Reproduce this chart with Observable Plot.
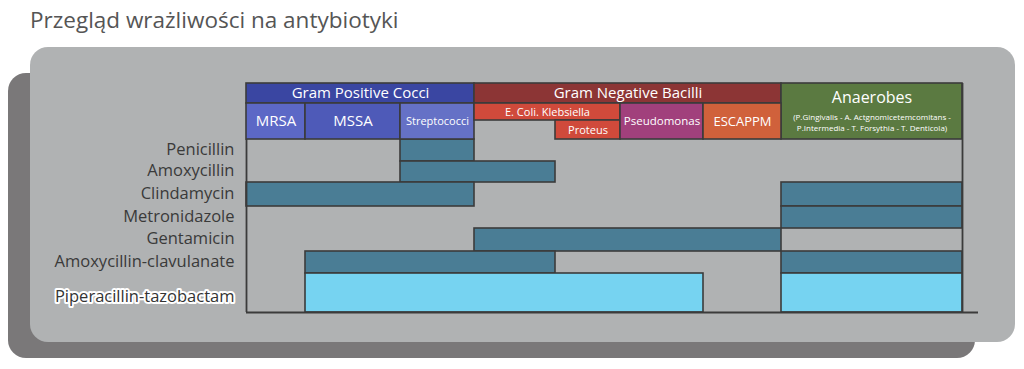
<!DOCTYPE html>
<html><head><meta charset="utf-8">
<script src="https://cdn.jsdelivr.net/npm/d3@7"></script>
<script src="https://cdn.jsdelivr.net/npm/@observablehq/plot@0.6"></script>
<style>
body{margin:0;background:#fff;font-family:"Open Sans",sans-serif;}
#wrap{position:relative;width:1024px;height:369px;overflow:hidden;}
#title{position:absolute;left:30px;top:5px;font-size:22.5px;color:#555;line-height:30px;}
.shadow{position:absolute;left:8px;top:73px;width:967px;height:285px;background:#7a7879;border-radius:18px;}
.panel{position:absolute;left:30px;top:47px;width:985px;height:295px;background:#b0b2b3;border-radius:18px;}
#chart{position:absolute;left:0;top:40px;}
</style></head>
<body><div id="wrap"><div class="shadow"></div><div class="panel"></div><div id="title">Przegląd wrażliwości na antybiotyki</div><div id="chart"></div></div>
<script>
// ---- data ----
const organisms = ["MRSA","MSSA","Streptococci","E. Coli. Klebsiella","Proteus","Pseudomonas","ESCAPPM","Anaerobes"];
const organismGroup = ["Gram Positive Cocci","Gram Positive Cocci","Gram Positive Cocci","Gram Negative Bacilli","Gram Negative Bacilli","Gram Negative Bacilli","Gram Negative Bacilli","Anaerobes"];
const groups = ["Gram Positive Cocci","Gram Negative Bacilli","Anaerobes"];
const anaerobeSpecies = ["(P.Gingivalis - A. Actgnomicetemcomitans -","P.Intermedia - T. Forsythia - T. Denticola)"];
const drugs = ["Penicillin","Amoxycillin","Clindamycin","Metronidazole","Gentamicin","Amoxycillin-clavulanate","Piperacillin-tazobactam"];
const spanDrug = ["Penicillin","Amoxycillin","Clindamycin","Clindamycin","Metronidazole","Gentamicin","Amoxycillin-clavulanate","Amoxycillin-clavulanate","Piperacillin-tazobactam","Piperacillin-tazobactam"];
const spanFrom = ["Streptococci","Streptococci","MRSA","Anaerobes","Anaerobes","E. Coli. Klebsiella","MSSA","Anaerobes","MSSA","Anaerobes"];
const spanTo   = ["Streptococci","E. Coli. Klebsiella","Streptococci","Anaerobes","Anaerobes","ESCAPPM","E. Coli. Klebsiella","Anaerobes","Pseudomonas","Anaerobes"];
const highlightDrug = "Piperacillin-tazobactam";

// ---- layout & styles ----
const colW = [59,95,74,81,65,83,78,181];
const colStart = []; let acc = 0; colW.forEach(w => { colStart.push(acc); acc += w; });
const totalW = acc;
const colEnd = colStart.map((s,i) => s + colW[i]);
const H1 = 20, H2 = 56;
const rowH = [22,21,24,22,23,22,39];
const rowTop = []; let ay = H2; rowH.forEach(h => { rowTop.push(ay); ay += h; });
const totalH = ay;
const idx = o => organisms.indexOf(o);
const groupColor = {"Gram Positive Cocci":"#3a46a2","Gram Negative Bacilli":"#8c3535","Anaerobes":"#5b7a41"};
const orgColor = {"MRSA":"#5c68c6","MSSA":"#4e5ab8","Streptococci":"#6571c6","E. Coli. Klebsiella":"#d04a3b","Proteus":"#d04a3b","Pseudomonas":"#a1407c","ESCAPPM":"#d0613b"};
const orgSize = {"MRSA":15,"MSSA":15,"Streptococci":11,"E. Coli. Klebsiella":11,"Proteus":11,"Pseudomonas":11.5,"ESCAPPM":13};
const teal = "#4a7d95", light = "#76d3f1", ink = "#3b3b3b";

const groupCells = groups.map(g => {
  const members = organisms.map((o,i)=>i).filter(i => organismGroup[i] === g);
  const x1 = colStart[members[0]], x2 = colEnd[members[members.length-1]];
  const merged = members.length === 1;
  return {label: g, x1, x2, y1: 0, y2: merged ? H2 : H1, fill: groupColor[g], ty: merged ? 14 : 10, size: merged ? 16 : 15};
});
const orgCells = organisms.filter(o => orgColor[o]).map(o => {
  const i = idx(o);
  let x1 = colStart[i], x2 = colEnd[i], y1 = H1, y2 = H2;
  if (o === "E. Coli. Klebsiella") { x2 = colEnd[idx("Proteus")]; y2 = (H1 + H2) / 2 - 1; }
  if (o === "Proteus") { y1 = (H1 + H2) / 2 - 1; }
  return {label: o, x1, x2, y1, y2, fill: orgColor[o], ty: (y1 + y2) / 2, size: orgSize[o]};
});
const spans = spanDrug.map((d,k) => {
  const r = drugs.indexOf(d);
  return {drug: d, x1: colStart[idx(spanFrom[k])], x2: colEnd[idx(spanTo[k])], y1: rowTop[r], y2: rowTop[r] + rowH[r], fill: d === highlightDrug ? light : teal};
});
const labels = drugs.map((d,r) => ({drug: d, y: rowTop[r] + rowH[r] / 2 + (d === highlightDrug ? 4 : -1)}));
const an = groupCells.find(c => c.label === "Anaerobes");
const species = anaerobeSpecies.map((s,k) => ({text: s, x: (an.x1 + an.x2) / 2, y: 34 + k * 11}));

const chart = Plot.plot({
  width: 1024, height: 329,
  marginLeft: 246, marginRight: 62, marginTop: 43, marginBottom: 57,
  x: {domain: [0, totalW], range: [246, 962], axis: null},
  y: {domain: [0, totalH], range: [43, 272], axis: null},
  color: {type: "identity"},
  style: {background: "transparent", overflow: "visible", fontFamily: "'Open Sans', sans-serif"},
  marks: [
    Plot.rect(spans, {x1: "x1", x2: "x2", y1: "y1", y2: "y2", fill: "fill", stroke: ink, strokeWidth: 1.6}),
    Plot.rect(groupCells, {x1: "x1", x2: "x2", y1: "y1", y2: "y2", fill: "fill", stroke: ink, strokeWidth: 1.6}),
    Plot.rect(orgCells, {x1: "x1", x2: "x2", y1: "y1", y2: "y2", fill: "fill", stroke: ink, strokeWidth: 1.6}),
    Plot.ruleX([0], {y1: H2, y2: totalH, stroke: ink, strokeWidth: 1.8}),
    Plot.ruleX([totalW], {y1: 0, y2: totalH, stroke: ink, strokeWidth: 1.8}),
    Plot.ruleY([totalH], {x1: 0, x2: totalW + 16, stroke: ink, strokeWidth: 1.8}),
    Plot.text(groupCells, {x: d => (d.x1 + d.x2) / 2, y: "ty", text: "label", fill: "white", fontSize: "size"}),
    Plot.text(orgCells, {x: d => (d.x1 + d.x2) / 2, y: "ty", text: "label", fill: "white", fontSize: "size"}),
    Plot.text(species, {x: "x", y: "y", text: "text", fill: "white", fontSize: 8}),
    Plot.text(labels.filter(l => l.drug !== highlightDrug), {x: 0, y: "y", text: "drug", dx: -12, textAnchor: "end", fill: "#3a3a3a", fontSize: 16.5}),
    Plot.text(labels.filter(l => l.drug === highlightDrug), {x: 0, y: "y", text: "drug", dx: -12, textAnchor: "end", fill: "#333", stroke: "white", strokeWidth: 4, fontSize: 16.5})
  ]
});
document.getElementById("chart").appendChild(chart);
</script>
</body></html>
